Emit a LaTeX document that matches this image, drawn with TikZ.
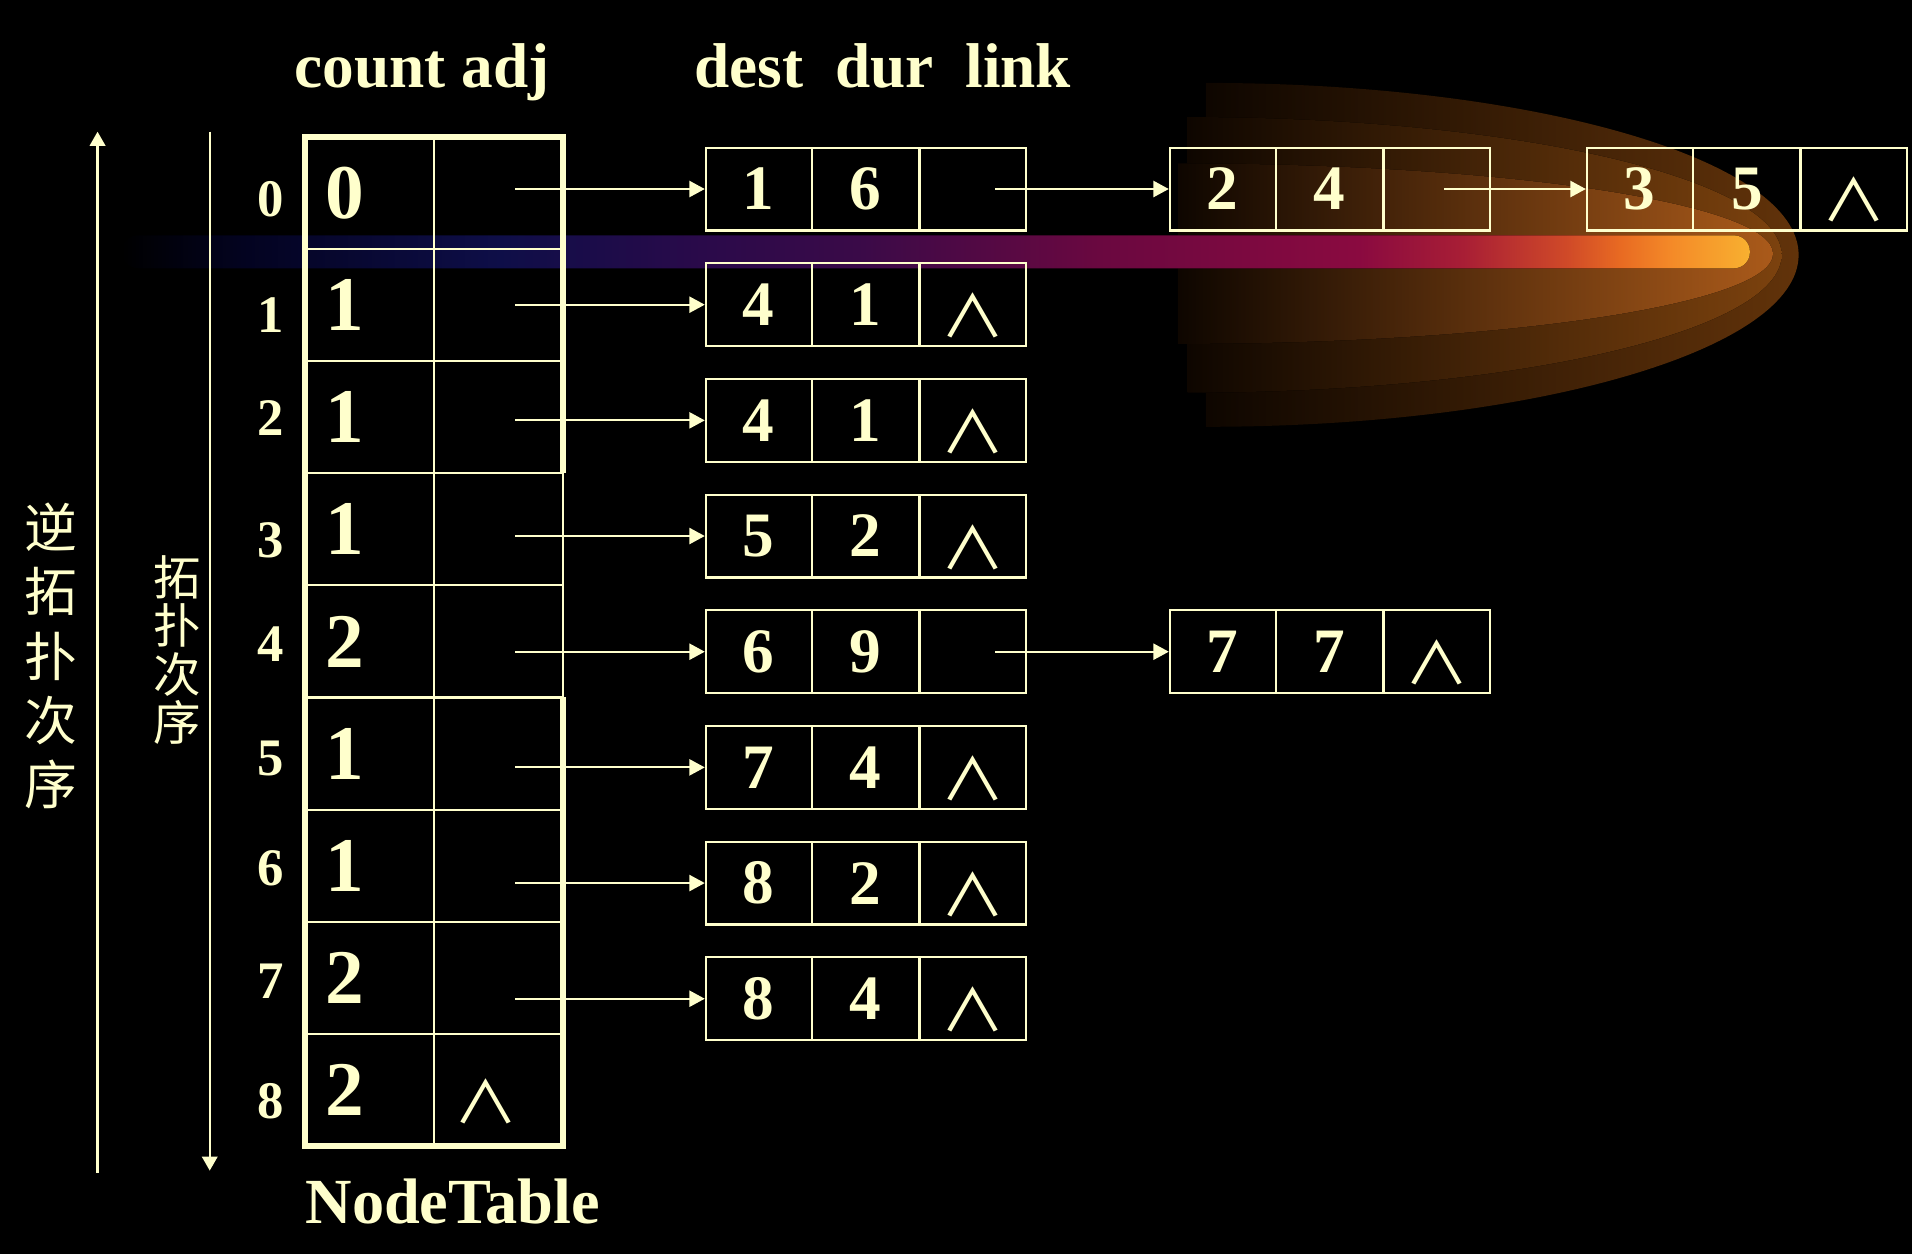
\documentclass[tikz,border=0pt]{standalone}
\usepackage{fontspec}
\setmainfont{Liberation Serif}
\newfontfamily\cjk{Noto Sans CJK SC}
\usepackage{tikz}
\usetikzlibrary{arrows.meta,positioning,shapes.multipart,calc}
\definecolor{cream}{HTML}{FFFFCC}
\definecolor{glowZ}{HTML}{0E0600}
\definecolor{glowA}{HTML}{62330A}
\definecolor{glowB}{HTML}{7C420E}
\definecolor{glowC}{HTML}{AA5A1A}
\definecolor{barA}{HTML}{030320}
\definecolor{barB}{HTML}{0E0E48}
\definecolor{barC}{HTML}{2A0A4A}
\definecolor{barD}{HTML}{3A0A48}
\definecolor{barE}{HTML}{6A0840}
\definecolor{barF}{HTML}{8A0A40}
\definecolor{barG}{HTML}{A81E35}
\definecolor{barH}{HTML}{D04A28}
\definecolor{barI}{HTML}{E86A22}
\definecolor{barJ}{HTML}{F48A28}
\definecolor{barK}{HTML}{F8B030}
\pgfdeclarehorizontalshading{glowbar}{100bp}{color(0bp)=(black); color(25bp)=(black); color(28.7bp)=(barA); color(36.6bp)=(barB); color(42.8bp)=(barC); color(47.6bp)=(barD); color(55bp)=(barE); color(63bp)=(barF); color(66.2bp)=(barG); color(69.4bp)=(barH); color(71bp)=(barI); color(72.6bp)=(barJ); color(75bp)=(barK); color(100bp)=(barK)}
\newcommand{\cell}[1]{\parbox[c][0.829cm][c]{1.052cm}{\centering #1}}
\newcommand{\nilsym}{\raisebox{-3.1pt}[\height][\depth]{\scalebox{1.12}[1]{\cjk\mdseries\fontsize{16.5}{16.5}\selectfont ∧}}}
\tikzset{
  tablecell/.style={draw=cream, text=cream, line width=0.6pt, outer sep=0pt, minimum width=1.287cm, minimum height=1.122cm, inner xsep=0.2cm, inner ysep=0pt, text width=0.887cm, align=left, font=\fontsize{22}{22}\selectfont\bfseries},
  tableedge/.style={draw=cream, line width=1.7pt},
  listnode/.style={rectangle split, rectangle split horizontal, rectangle split parts=3, draw=cream, text=cream, line width=0.6pt, inner sep=0pt, font=\fontsize{18}{18}\selectfont\bfseries},
  arrow/.style={-{Triangle[length=4.4pt, width=4.6pt]}, color=cream, line width=0.6pt},
  order/.style={-{Triangle[length=4pt, width=4.4pt]}, color=cream, line width=0.6pt},
  heading/.style={inner sep=0pt, text=cream, font=\fontsize{18}{18}\selectfont\bfseries},
  index/.style={inner sep=0pt, text=cream, font=\fontsize{15}{15}\selectfont\bfseries},
  ordertext/.style={inner sep=0pt, text=cream, align=center}
}
\begin{document}
\begin{tikzpicture}[x=0.012194cm, y=-0.012194cm]
  \fill[black, use as bounding box] (0,0) rectangle (1568,1028);
  % glow behind the lists
  \fill[left color=glowZ, right color=glowA] (989,350) arc[start angle=90, end angle=-90, x radius=486, y radius=141] -- cycle;
  \fill[left color=glowZ, right color=glowB] (974,322) arc[start angle=90, end angle=-90, x radius=487, y radius=113] -- cycle;
  \fill[left color=glowZ, right color=glowC] (966,282) arc[start angle=90, end angle=-90, x radius=488, y radius=74] -- cycle;
  \fill[shading=glowbar, rounded corners=0.16cm] (100,193) rectangle (1435,220);

  % order arrows
  \coordinate (revlow) at (80,962);
  \coordinate (revhigh) at (80,108);
  \coordinate (fwdhigh) at (172,108);
  \coordinate (fwdlow) at (172,960);
  \draw[order] (revlow) -- (revhigh);
  \draw[order] (fwdhigh) -- (fwdlow);
  \node[ordertext, font=\cjk\fontsize{15}{18.3}\selectfont] (revlabel) at (42,538) {逆\\拓\\扑\\次\\序};
  \node[ordertext, font=\cjk\fontsize{13.5}{13.8}\selectfont] (fwdlabel) at (145,533) {拓\\扑\\次\\序};

  % NodeTable
  \node[heading, anchor=base] (hdtable) at (346,72) {count adj};
  \node[heading, anchor=base] (hdlist) at (724,72) {dest\ \ dur\ \ link};
  \foreach \c/\a [count=\i from 0] in {0/,1/,1/,1/,2/,1/,1/,2/,2/\nilsym}{
    \node[tablecell] (cnt\i) at (303,158+92*\i) {\c};
    \node[tablecell, right=0pt of cnt\i] (adj\i) {\a};
  }
  \foreach \y [count=\i from 0] in {163,258,343,443,528,622,712,805,903}
    \node[index] (idx\i) at (222,\y) {\i};
  \draw[tableedge] (adj2.south east) -- (adj0.north east) -- (cnt0.north west) -- (cnt8.south west) -- (adj8.south east) -- (adj5.north east);
  \node[heading, anchor=west, font=\fontsize{18.3}{18.3}\selectfont\bfseries] (tabname) at (250,985) {NodeTable};

  % edge lists
  \foreach \a/\b/\l [count=\i from 0] in {1/6/\vphantom{0},4/1/\nilsym,4/1/\nilsym,5/2/\nilsym,6/9/\vphantom{0},7/4/\nilsym,8/2/\nilsym,8/4/\nilsym}{
    \node[listnode] (d\i) at (710,155+94.86*\i) {\cell{\a}\nodepart{two}\cell{\b}\nodepart{three}\cell{\l}};
    \draw[arrow] ($(d\i.west -| adj\i.center)+(14,0)$) -- (d\i.west);
  }
  \node[listnode, right=1.42cm of d0] (d0b) {\cell{2}\nodepart{two}\cell{4}\nodepart{three}\cell{\vphantom{0}}};
  \node[listnode, right=0.95cm of d0b] (d0c) {\cell{3}\nodepart{two}\cell{5}\nodepart{three}\cell{\nilsym}};
  \node[listnode, right=1.42cm of d4] (d4b) {\cell{7}\nodepart{two}\cell{7}\nodepart{three}\cell{\nilsym}};
  \draw[arrow] ($(d0.east)+(-26,0)$) -- (d0b.west);
  \draw[arrow] ($(d0b.east)+(-38,0)$) -- (d0c.west);
  \draw[arrow] ($(d4.east)+(-26,0)$) -- (d4b.west);
\end{tikzpicture}
\end{document}
